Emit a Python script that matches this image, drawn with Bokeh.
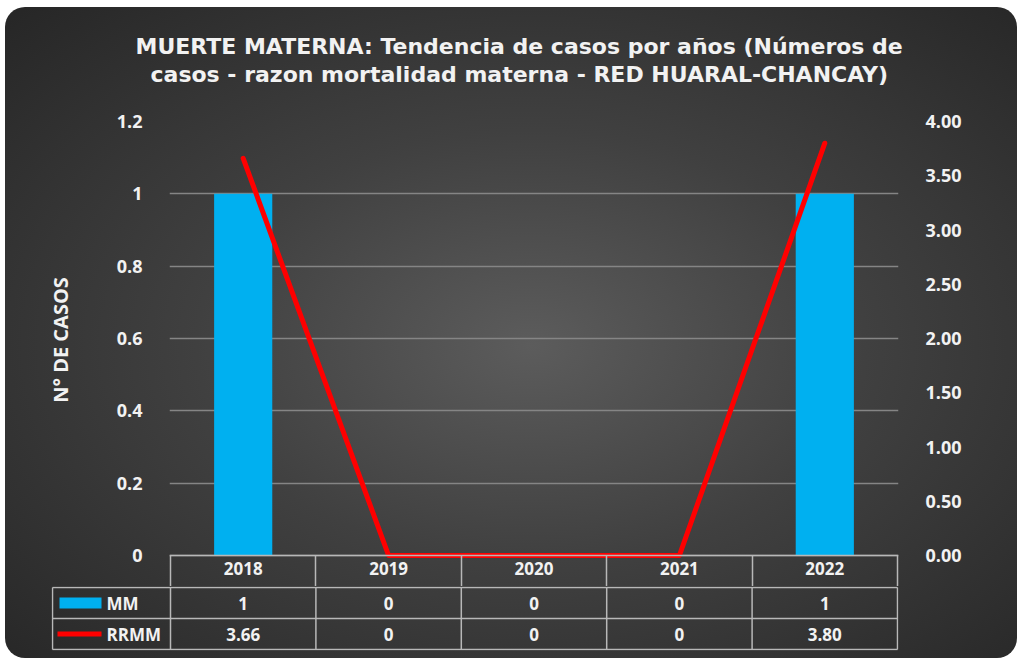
import numpy as np
from bokeh.plotting import figure
from bokeh.layouts import column
from bokeh.models import Range1d, LinearAxis, FixedTicker, NumeralTickFormatter, Title, Span
from bokeh.core.properties import value
from bokeh.embed import file_html
from bokeh.resources import INLINE

# ---------------- data ----------------
years = ["2018", "2019", "2020", "2021", "2022"]
mm = [1, 0, 0, 0, 1]
rrmm = [3.66, 0, 0, 0, 3.80]
mm_labels = ["1", "0", "0", "0", "1"]
rrmm_labels = ["3.66", "0", "0", "0", "3.80"]
series = ["MM", "RRMM"]
left_ticks = [0, 0.2, 0.4, 0.6, 0.8, 1.0, 1.2]
right_ticks = [0, 0.5, 1.0, 1.5, 2.0, 2.5, 3.0, 3.5, 4.0]
title_lines = ["MUERTE MATERNA: Tendencia de casos por años (Números de",
               "casos - razon mortalidad  materna - RED HUARAL-CHANCAY)"]
y_title = "N° DE CASOS"

# ---------------- style ----------------
FONT = "Open Sans"
TITLE_FONT = "DejaVu Sans"
WHITE = "#f2f2f2"
BLUE = "#00b0f0"
RED = "#ff0000"
GRID = "#858585"
BORDER = "#b8b8b8"

W = 1012
n = len(years)
u = 727 / n                 # px per category
xs = np.arange(n) + 0.5     # category centres
edges = np.arange(n + 1)


def no_align(fig):
    if "frame_align" in fig.properties():
        fig.frame_align = False


# ---------------- main chart ----------------
px_left = 434 / 1.2
px_right = 434 / 4.0
drop = 3
y0_left = -drop / px_left
y0_right = -drop / px_right

p = figure(width=W, height=579, output_backend="svg", toolbar_location=None,
           x_range=Range1d(-1 / u, n + 1 / u), y_range=Range1d(y0_left, 1.2),
           min_border_left=164, min_border_right=119,
           min_border_top=114, min_border_bottom=28)
no_align(p)
p.background_fill_alpha = 0
p.border_fill_alpha = 0
p.outline_line_color = None
p.extra_y_ranges = {"right": Range1d(y0_right, 4.0)}

yl = p.yaxis[0]
yl.ticker = FixedTicker(ticks=left_ticks)
yl.formatter = NumeralTickFormatter(format="0.[0]")
yl.axis_label = y_title
ra = LinearAxis(y_range_name="right", ticker=FixedTicker(ticks=right_ticks),
                formatter=NumeralTickFormatter(format="0.00"))
p.add_layout(ra, "right")
for ax in (yl, ra):
    ax.axis_line_color = None
    ax.major_tick_line_color = None
    ax.minor_tick_line_color = None
    ax.major_label_text_font = FONT
    ax.major_label_text_font_style = "bold"
    ax.major_label_text_font_size = "18px"
    ax.major_label_text_color = WHITE
    ax.major_label_standoff = 21
yl.axis_label_text_font = FONT
yl.axis_label_text_font_style = "bold"
yl.axis_label_text_font_size = "20px"
yl.axis_label_text_color = WHITE
yl.axis_label_standoff = 40

# x axis = header row of the data table
xa = p.xaxis[0]
xa.ticker = FixedTicker(ticks=list(xs), minor_ticks=list(edges))
xa.major_label_overrides = {float(x): y for x, y in zip(xs, years)}
xa.axis_line_color = None
xa.major_tick_line_color = None
xa.major_tick_in = 0
xa.major_tick_out = 0
xa.minor_tick_line_color = BORDER
xa.minor_tick_line_width = 1.5
xa.minor_tick_in = drop
xa.minor_tick_out = 29
xa.major_label_standoff = -26
xa.major_label_text_font = FONT
xa.major_label_text_font_style = "bold"
xa.major_label_text_font_size = "17px"
xa.major_label_text_color = WHITE

p.xgrid.visible = False
p.ygrid.ticker = FixedTicker(ticks=left_ticks)
p.ygrid.grid_line_color = GRID
p.ygrid.grid_line_width = 1.5

p.title.visible = False
spacer = Title(text=" ", text_font_size="1px", standoff=31)
t2 = Title(text=title_lines[1], align="left", offset=-19, text_font=TITLE_FONT,
           text_font_style="bold", text_font_size="22px", text_color=WHITE, standoff=1)
t1 = Title(text=title_lines[0], align="left", offset=-34, text_font=TITLE_FONT,
           text_font_style="bold", text_font_size="22px", text_color=WHITE, standoff=2)
p.add_layout(spacer, "above")
p.add_layout(t2, "above")
p.add_layout(t1, "above")

p.vbar(x=xs, top=mm, bottom=0, width=0.4, fill_color=BLUE, line_color=None)
p.add_layout(Span(location=0, dimension="width", line_color=BORDER, line_width=1.5))
p.line(x=xs, y=rrmm, y_range_name="right", line_color=RED, line_width=5,
       line_join="round", line_cap="round")

# ---------------- data table (value rows) ----------------
row_h = 31
lab_w = 118 / u
t = figure(width=W, height=72, output_backend="svg", toolbar_location=None,
           x_range=Range1d(-lab_w - 1 / u, n + 1 / u),
           y_range=Range1d(-1 / row_h, 2 + 1 / row_h),
           x_axis_location=None, y_axis_location=None,
           min_border_left=46, min_border_right=119, min_border_top=0, min_border_bottom=8)
no_align(t)
t.background_fill_alpha = 0
t.border_fill_alpha = 0
t.outline_line_color = None
t.xgrid.visible = False
t.ygrid.visible = False

t.segment(x0=[-lab_w] * 3, x1=[n] * 3, y0=[0, 1, 2], y1=[0, 1, 2], line_color=BORDER, line_width=1.5)
t.segment(x0=[-lab_w], x1=[-lab_w], y0=[0], y1=[2], line_color=BORDER, line_width=1.5)
t.segment(x0=edges, x1=edges, y0=[0] * (n + 1), y1=[2] * (n + 1), line_color=BORDER, line_width=1.5)

txt = dict(text_font=value(FONT), text_font_style="bold", text_font_size="17px",
           text_color=WHITE, text_align="center", text_baseline="middle")
t.text(x=xs, y=[1.5] * n, text=mm_labels, **txt)
t.text(x=xs, y=[0.5] * n, text=rrmm_labels, **txt)

k0 = -lab_w + 7 / u
k1 = -lab_w + 49 / u
t.quad(left=[k0], right=[k1], bottom=[1.5 - 5.5 / row_h], top=[1.5 + 5.5 / row_h],
       fill_color=BLUE, line_color=None)
t.segment(x0=[k0 - 2 / u], x1=[k1], y0=[0.5], y1=[0.5], line_color=RED, line_width=5)
t.text(x=[k1 + 5 / u] * 2, y=[1.5, 0.5], text=series, **{**txt, "text_align": "left"})

layout = column(p, t, styles={
    "background": "radial-gradient(ellipse at 52% 52%, #5c5c5c 0%, #404040 45%, #262626 100%)",
    "border-radius": "20px",
    "margin-left": "5px",
    "margin-top": "7px",
})

open("out.html", "w").write(file_html(layout, INLINE))
